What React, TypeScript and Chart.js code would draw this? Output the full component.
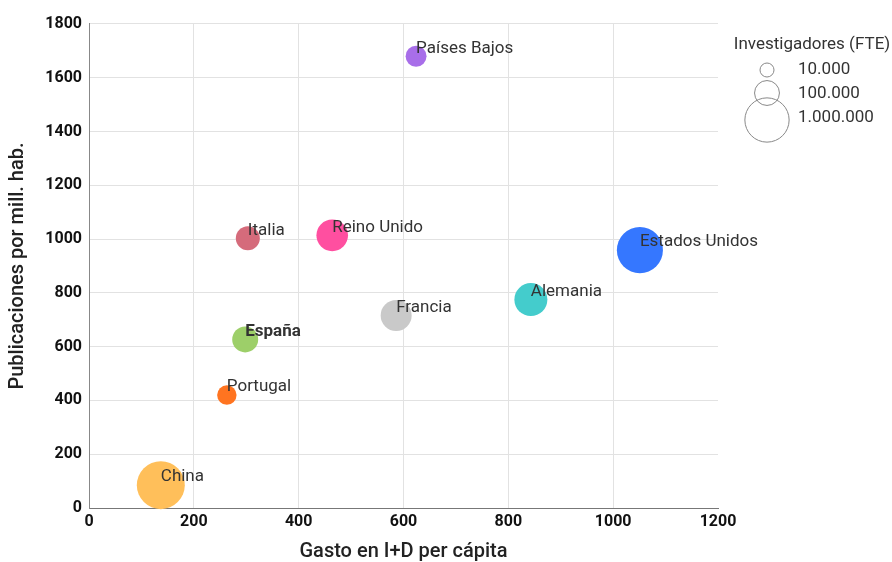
import React, { useEffect, useRef } from "react";
import { Chart, registerables } from "chart.js";

Chart.register(...registerables);

const countries = ["Países Bajos", "Italia", "Reino Unido", "Estados Unidos", "Alemania", "Francia", "España", "Portugal", "China"];
const spending = [624, 303, 464, 1051, 843, 586, 298, 263, 137];
const publications = [1680, 1003, 1014, 959, 775, 716, 627, 420, 85];
const researchers = [50000, 86000, 260000, 1170000, 310000, 240000, 119000, 37000, 1380000];
const colors = ["#a86ee9", "#d56b7b", "#ff4fa0", "#3577ff", "#44cccc", "#c9c9c9", "#9dcf69", "#ff7420", "#ffbf5a"];
const highlighted = ["España"];
const legendValues = [10000, 100000, 1000000];
const legendLabels = ["10.000", "100.000", "1.000.000"];
const legendTitle = "Investigadores (FTE)";
const xTitle = "Gasto en I+D per cápita";
const yTitle = "Publicaciones por mill. hab.";

const FONT = "Roboto";
const radiusOf = (v: number) => 0.7 * Math.pow(v, 0.25);

const labelsPlugin = {
  id: "bubbleLabels",
  afterDatasetsDraw(chart: any) {
    const ctx = chart.ctx;
    const meta = chart.getDatasetMeta(0);
    ctx.save();
    ctx.textAlign = "left";
    ctx.textBaseline = "middle";
    ctx.fillStyle = "#333333";
    meta.data.forEach((el: any, i: number) => {
      const name = countries[i];
      const bold = highlighted.includes(name);
      ctx.font = `${bold ? "bold" : "normal"} 17px ${FONT}`;
      ctx.fillText(name, el.x, el.y - 8);
    });
    ctx.restore();
  },
};

const sizeLegendPlugin = {
  id: "sizeLegend",
  afterDraw(chart: any) {
    const ctx = chart.ctx;
    const area = chart.chartArea;
    ctx.save();
    ctx.fillStyle = "#333333";
    ctx.font = `normal 17px ${FONT}`;
    ctx.textAlign = "center";
    ctx.textBaseline = "middle";
    ctx.fillText(legendTitle, area.right + 94, 45);
    const cx = area.right + 49;
    const centers = [70, 93, 120];
    const labelYs = [70, 94, 118];
    ctx.strokeStyle = "#888888";
    ctx.lineWidth = 1;
    legendValues.forEach((v, i) => {
      ctx.beginPath();
      ctx.arc(cx, centers[i], radiusOf(v), 0, Math.PI * 2);
      ctx.stroke();
    });
    ctx.textAlign = "left";
    legendLabels.forEach((t, i) => {
      ctx.fillText(t, area.right + 80, labelYs[i]);
    });
    ctx.restore();
  },
};

export default function App() {
  const ref = useRef<HTMLCanvasElement | null>(null);
  useEffect(() => {
    document.body.style.margin = "0";
    const canvas = ref.current;
    if (!canvas) return;
    const tickFont = { family: FONT, size: 16, weight: "bold" };
    const titleFont = { family: FONT, size: 20, weight: "500" };
    const chart = new Chart(canvas, {
      type: "bubble",
      data: {
        datasets: [
          {
            data: countries.map((_, i) => ({ x: spending[i], y: publications[i], r: radiusOf(researchers[i]) })),
            backgroundColor: colors,
            borderWidth: 0,
            clip: false,
          } as any,
        ],
      },
      options: {
        animation: false,
        responsive: false,
        devicePixelRatio: 1,
        layout: { padding: { top: 20, right: 174, left: 0, bottom: 0 } },
        plugins: { legend: { display: false }, tooltip: { enabled: false } },
        scales: {
          x: {
            type: "linear",
            min: 0,
            max: 1200,
            ticks: { stepSize: 200, color: "#111", padding: 4, font: tickFont, callback: (v: any) => String(v) },
            grid: {
              color: (c: any) => (c.tick && c.tick.value === 1200 ? "rgba(0,0,0,0)" : "#e2e2e2"),
              drawTicks: false,
              lineWidth: 1,
            },
            border: { display: true, color: "#777", width: 1 },
            title: { display: true, text: xTitle, color: "#222", font: titleFont, padding: { top: 0, bottom: -2 } },
            afterFit: (s: any) => { s.height = 54; },
          },
          y: {
            type: "linear",
            min: 0,
            max: 1800,
            ticks: { stepSize: 200, color: "#111", padding: 7, font: tickFont, callback: (v: any) => String(v) },
            grid: { color: "#e2e2e2", drawTicks: false, lineWidth: 1 },
            border: { display: true, color: "#888", width: 1 },
            title: { display: true, text: yTitle, color: "#222", font: titleFont, padding: { top: 6, bottom: 0 } },
            afterFit: (s: any) => { s.width = 89; },
          },
        },
      } as any,
      plugins: [labelsPlugin, sizeLegendPlugin],
    });
    return () => chart.destroy();
  }, []);
  return (
    <div style={{ width: 892, height: 562 }}>
      <canvas ref={ref} width={892} height={562} />
    </div>
  );
}
